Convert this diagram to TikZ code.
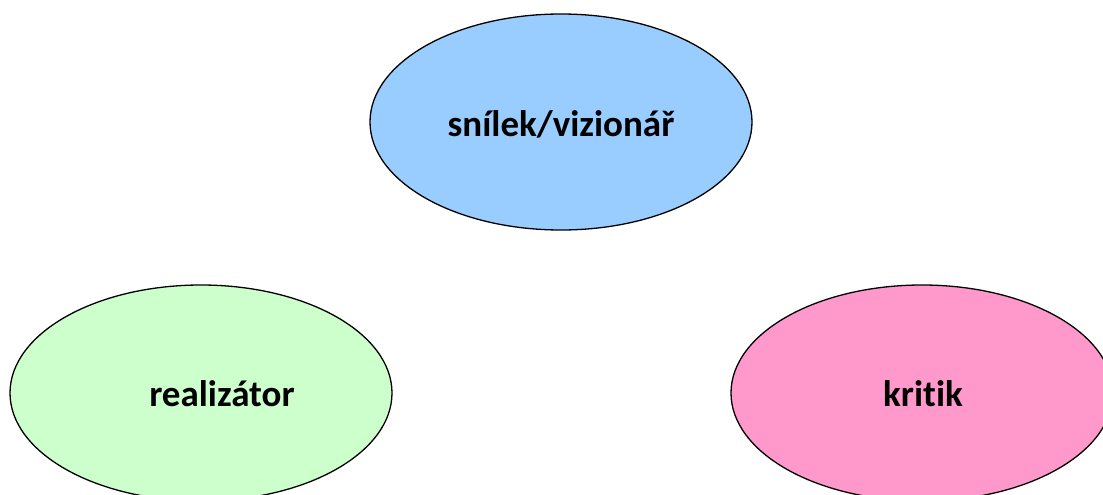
\documentclass[tikz,border=0pt]{standalone}
\usepackage{fontspec}
\setmainfont[Ligatures=NoCommon]{Carlito}
\usetikzlibrary{shapes.geometric}
\definecolor{dreamblue}{HTML}{99CCFF}
\definecolor{realgreen}{HTML}{CCFFCC}
\definecolor{criticpink}{HTML}{FF99CC}

\begin{document}
\begin{tikzpicture}[x=1pt,y=-1pt,
  role/.style={ellipse,draw=black,line width=1.3pt,minimum width=382pt,minimum height=216pt,inner sep=0pt},
  rolename/.style={anchor=base,inner sep=0pt,font=\bfseries\fontsize{37}{44}\selectfont}]
\useasboundingbox (0,0) rectangle (1103,495);
\clip (0,0) rectangle (1103,495);
% the three roles
\node[role,fill=dreamblue] (dreamer) at (561,122) {};
\node[role,fill=realgreen] (realist) at (201,393) {};
\node[role,fill=criticpink] (critic) at (922,393) {};
% their names
\node[rolename] (dreamername) at ([yshift=-14pt]dreamer.center) {snílek/vizionář};
\node[rolename] (realistname) at ([xshift=21pt,yshift=-13pt]realist.center) {realizátor};
\node[rolename] (criticname) at ([xshift=1pt,yshift=-13pt]critic.center) {kritik};
\end{tikzpicture}
\end{document}
